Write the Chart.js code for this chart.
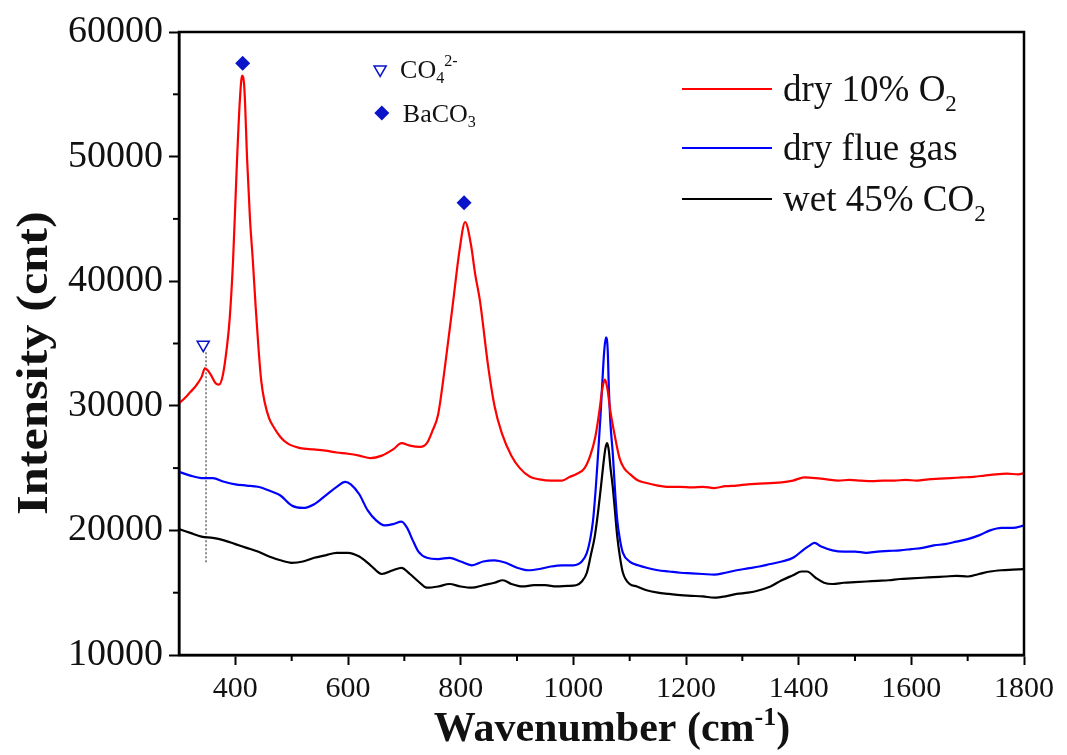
<!DOCTYPE html>
<html>
<head>
<meta charset="utf-8">
<script src="https://cdn.jsdelivr.net/npm/chart.js@4.4.0/dist/chart.umd.min.js"></script>
<style>
  html, body { margin: 0; padding: 0; background: #fff; }
</style>
</head>
<body>
<canvas id="ramanChart" width="1067" height="755"></canvas>
<script>
// Raman spectra
const redX = [300,310,320,330,340,346,355,365,371,378,385,390,396,403,408,412,416,421,426,431,436,441,446,452,460,468,480,492,515,540,560,580,600,620,640,660,680,695,710,728,740,750,760,772,787,798,808,818,826,834,849,860,873,890,905,923,940,960,980,994,1005,1020,1030,1039,1046,1052,1056,1060,1066,1074,1082,1090,1101,1115,1130,1150,1170,1190,1210,1230,1250,1270,1290,1310,1330,1350,1370,1390,1410,1430,1450,1470,1490,1510,1530,1550,1570,1590,1610,1630,1650,1670,1690,1710,1730,1750,1770,1790,1800];
const redY = [30200,30600,31100,31600,32300,33000,32600,31800,31700,32500,34700,37000,41700,49700,54500,56500,55500,49700,45000,41700,38000,34700,32000,30300,29000,28300,27500,27000,26600,26500,26400,26250,26150,26000,25800,26000,26500,27000,26800,26700,27000,28000,29300,33100,38500,42500,44750,43000,40500,38500,33100,30000,27800,26000,25000,24300,24100,24000,24000,24300,24500,25000,26000,27500,29500,31500,32100,31500,29500,27500,25800,25000,24500,24000,23800,23600,23500,23500,23450,23500,23400,23550,23600,23700,23750,23800,23850,24000,24250,24200,24100,24000,24050,24000,23950,24000,24000,24050,24000,24100,24150,24200,24250,24300,24400,24500,24550,24500,24600];

const blueX = [300,320,340,360,380,400,420,440,460,480,500,520,540,560,580,595,605,620,635,650,665,680,695,705,715,725,740,760,780,800,820,840,860,880,900,920,940,960,980,1000,1015,1024,1030,1035,1040,1044,1048,1051,1055,1058,1061,1063,1066,1070,1074,1078,1083,1088,1100,1115,1130,1150,1170,1190,1210,1230,1250,1270,1290,1310,1330,1350,1370,1390,1410,1420,1428,1440,1460,1480,1500,1520,1540,1560,1580,1600,1620,1640,1660,1680,1700,1720,1740,1760,1780,1800];
const blueY = [24700,24400,24200,24200,23900,23700,23600,23500,23200,22800,22000,21800,22100,22800,23500,23900,23700,22900,21600,20800,20400,20500,20700,20200,19200,18300,17800,17700,17800,17500,17200,17500,17600,17400,17000,16800,16900,17100,17200,17200,17500,18200,19300,20800,23500,26200,29000,31500,34500,35500,34500,31500,28500,26200,23200,20800,19200,18200,17500,17200,17000,16800,16700,16600,16550,16500,16450,16600,16800,16950,17100,17300,17500,17800,18500,18800,19000,18700,18400,18300,18300,18200,18300,18350,18400,18500,18600,18800,18900,19100,19300,19600,20000,20200,20200,20400];

const blackX = [300,320,340,360,380,400,420,440,460,480,500,520,540,560,580,600,620,640,660,680,695,710,725,740,760,780,800,820,840,860,875,890,910,930,950,970,990,1005,1015,1024,1031,1038,1044,1049,1053,1057,1060,1063,1066,1070,1074,1078,1083,1088,1100,1113,1130,1150,1170,1190,1210,1230,1250,1270,1290,1310,1330,1350,1370,1390,1405,1415,1430,1445,1460,1480,1500,1520,1540,1560,1580,1600,1620,1640,1660,1680,1700,1720,1740,1760,1780,1800];
const blackY = [20100,19800,19500,19400,19200,18900,18600,18300,17900,17600,17400,17500,17800,18000,18200,18200,17900,17200,16500,16800,17000,16500,15900,15400,15500,15700,15500,15400,15600,15800,16000,15700,15500,15600,15600,15500,15550,15600,15900,16600,18000,19500,21500,23500,25200,26600,27000,26400,25000,23500,21500,19500,17800,16600,15700,15500,15200,15000,14900,14800,14750,14700,14600,14700,14900,15000,15200,15500,16000,16400,16700,16700,16200,15800,15700,15800,15850,15900,15950,16000,16100,16150,16200,16250,16300,16350,16300,16500,16700,16800,16850,16900];

const seriesNames = ['dry 10% O2', 'dry flue gas', 'wet 45% CO2'];
const seriesColors = ['#ff0000', '#0000ff', '#000000'];

const xTicks = [400,600,800,1000,1200,1400,1600,1800];
const xMinor = [500,700,900,1100,1300,1500,1700];
const yTicks = [10000,20000,30000,40000,50000,60000];
const yMinor = [15000,25000,35000,45000,55000];

// peak markers
const diamondX = [413, 806, 660];
const diamondY = [57500, 46300, 53500];
const triangleX = [343, 657];
const triangleY = [34900, 57000];
const guideX = [348, 348];
const guideY = [34300, 17300];

const markerBlue = '#0a14c8';
const serif = "'Liberation Serif', 'Times New Roman', serif";

function pts(xs, ys) {
    return xs.map((x, i) => ({ x: x, y: ys[i] }));
}

// draws text pieces in sequence, pieces can be sub/sup
function drawRich(ctx, parts, x, y, size, bold) {
    const w = bold ? 'bold ' : '';
    let cx = x;
    parts.forEach(p => {
        let fs = size, dy = 0;
        if (p.sub) { fs = size * 0.62; dy = size * 0.28; }
        if (p.sup) { fs = size * 0.62; dy = -size * 0.38; }
        ctx.font = w + fs + 'px ' + serif;
        ctx.fillText(p.t, cx, y + dy);
        cx += ctx.measureText(p.t).width;
    });
    return cx - x;
}

function richWidth(ctx, parts, size, bold) {
    const w = bold ? 'bold ' : '';
    let total = 0;
    parts.forEach(p => {
        const fs = (p.sub || p.sup) ? size * 0.62 : size;
        ctx.font = w + fs + 'px ' + serif;
        total += ctx.measureText(p.t).width;
    });
    return total;
}

const decor = {
    id: 'decor',
    afterDraw(chart) {
        const { ctx, chartArea: a, scales: { x, y } } = chart;
        ctx.save();

        // frame
        ctx.strokeStyle = '#000';
        ctx.lineWidth = 2.5;
        ctx.strokeRect(a.left, a.top, a.right - a.left, a.bottom - a.top);

        // minor ticks
        ctx.lineWidth = 2;
        xMinor.forEach(v => {
            const px = x.getPixelForValue(v);
            ctx.beginPath();
            ctx.moveTo(px, a.bottom);
            ctx.lineTo(px, a.bottom + 6);
            ctx.stroke();
        });
        yMinor.forEach(v => {
            const py = y.getPixelForValue(v);
            ctx.beginPath();
            ctx.moveTo(a.left, py);
            ctx.lineTo(a.left - 6, py);
            ctx.stroke();
        });

        // marker labels
        ctx.fillStyle = '#111';
        ctx.textBaseline = 'middle';
        ctx.textAlign = 'left';
        drawRich(ctx, [{ t: 'CO' }, { t: '4', sub: true }, { t: '2-', sup: true }],
            x.getPixelForValue(triangleX[1]) + 20, y.getPixelForValue(triangleY[1]) + 2, 26, false);
        drawRich(ctx, [{ t: 'BaCO' }, { t: '3', sub: true }],
            x.getPixelForValue(diamondX[2]) + 21, y.getPixelForValue(diamondY[2]) + 2, 26, false);

        // legend
        const lx = a.right - 342;
        const rows = [89, 148, 199];
        seriesNames.forEach((name, i) => {
            const ly = rows[i];
            ctx.strokeStyle = seriesColors[i];
            ctx.lineWidth = 2;
            ctx.beginPath();
            ctx.moveTo(lx, ly);
            ctx.lineTo(lx + 90, ly);
            ctx.stroke();
            ctx.fillStyle = '#111';
            ctx.textBaseline = 'alphabetic';
            const parts = name.endsWith('2') && name !== 'dry flue gas'
                ? [{ t: name.slice(0, -1) }, { t: '2', sub: true }]
                : [{ t: name }];
            drawRich(ctx, parts, lx + 101, ly + 12, 37, false);
        });

        // axis titles
        ctx.fillStyle = '#111';
        ctx.textBaseline = 'alphabetic';
        const xt = [{ t: 'Wavenumber (cm' }, { t: '-1', sup: true }, { t: ')' }];
        const xw = richWidth(ctx, xt, 42, true);
        drawRich(ctx, xt, 612 - xw / 2, 741, 42, true);

        ctx.save();
        ctx.translate(35, 363);
        ctx.rotate(-Math.PI / 2);
        ctx.scale(1.12, 1);
        ctx.textAlign = 'center';
        ctx.textBaseline = 'middle';
        ctx.font = 'bold 45px ' + serif;
        ctx.fillText('Intensity (cnt)', 0, 0);
        ctx.restore();

        ctx.restore();
    }
};

const lineStyle = {
    borderWidth: 2.2,
    pointRadius: 0,
    cubicInterpolationMode: 'monotone'
};

const ctx = document.getElementById('ramanChart').getContext('2d');
new Chart(ctx, {
    type: 'line',
    data: {
        datasets: [
            Object.assign({
                label: seriesNames[0],
                data: pts(redX, redY),
                borderColor: seriesColors[0]
            }, lineStyle),
            Object.assign({
                label: seriesNames[1],
                data: pts(blueX, blueY),
                borderColor: seriesColors[1]
            }, lineStyle),
            Object.assign({
                label: seriesNames[2],
                data: pts(blackX, blackY),
                borderColor: seriesColors[2]
            }, lineStyle),
            {
                label: 'guide',
                data: pts(guideX, guideY),
                borderColor: '#666',
                borderWidth: 1.5,
                borderDash: [2, 2],
                pointRadius: 0
            },
            {
                label: 'BaCO3',
                data: pts(diamondX, diamondY),
                showLine: false,
                pointStyle: 'rectRot',
                pointRadius: 7.5,
                pointBackgroundColor: markerBlue,
                pointBorderColor: markerBlue,
                borderWidth: 0
            },
            {
                label: 'CO4',
                data: pts(triangleX, triangleY),
                showLine: false,
                pointStyle: 'triangle',
                pointRotation: 180,
                pointRadius: 7,
                pointBackgroundColor: 'rgba(0,0,0,0)',
                pointBorderColor: markerBlue,
                pointBorderWidth: 1.5
            }
        ]
    },
    options: {
        responsive: false,
        animation: false,
        layout: {
            padding: { left: 0, top: 32, right: 43, bottom: 0 }
        },
        plugins: {
            legend: { display: false },
            tooltip: { enabled: false }
        },
        scales: {
            x: {
                type: 'linear',
                min: 300,
                max: 1800,
                afterBuildTicks: s => { s.ticks = xTicks.map(v => ({ value: v })); },
                afterFit: s => { s.height = 100; },
                ticks: {
                    callback: v => String(v),
                    font: { family: serif, size: 30 },
                    color: '#111',
                    padding: 6,
                    maxRotation: 0,
                    autoSkip: false
                },
                grid: { drawOnChartArea: false, tickLength: 10, tickWidth: 2, tickColor: '#000' },
                border: { color: '#000', width: 2.5 }
            },
            y: {
                min: 10000,
                max: 60000,
                afterBuildTicks: s => { s.ticks = yTicks.map(v => ({ value: v })); },
                afterFit: s => { s.width = 179; },
                ticks: {
                    callback: v => String(v),
                    font: { family: serif, size: 38 },
                    color: '#111',
                    padding: 6
                },
                grid: { drawOnChartArea: false, tickLength: 10, tickWidth: 2, tickColor: '#000' },
                border: { color: '#000', width: 2.5 }
            }
        }
    },
    plugins: [decor]
});
</script>
</body>
</html>
